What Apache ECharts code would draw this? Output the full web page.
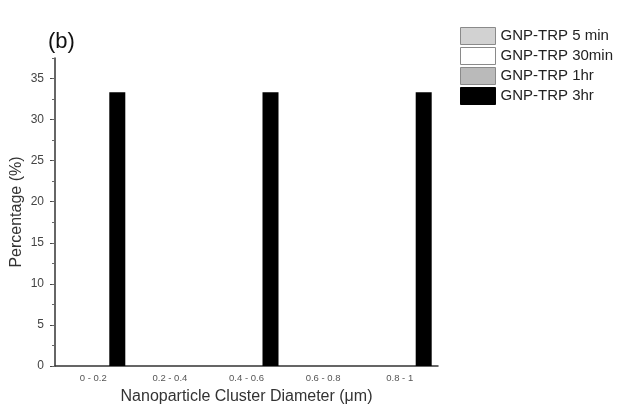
<!DOCTYPE html>
<html>
<head>
<meta charset="utf-8">
<script src="https://cdn.jsdelivr.net/npm/echarts@6/dist/echarts.min.js"></script>
<style>
  html, body { margin: 0; padding: 0; background: #fff; }
  #chart { width: 625px; height: 410px; }
</style>
</head>
<body>
<div id="chart"></div>
<script>
// Cluster diameter bins (µm)
const categories = ['0 - 0.2', '0.2 - 0.4', '0.4 - 0.6', '0.6 - 0.8', '0.8 - 1'];

// Percentage of clusters per bin for each incubation time
const seriesNames = ['GNP-TRP 5 min', 'GNP-TRP 30min', 'GNP-TRP 1hr', 'GNP-TRP 3hr'];
const values5min  = [0, 0, 0, 0, 0];
const values30min = [0, 0, 0, 0, 0];
const values1hr   = [0, 0, 0, 0, 0];
const values3hr   = [33.33, 0, 33.33, 0, 33.33];

const yTickValues = [0, 5, 10, 15, 20, 25, 30, 35];

const fills   = ['#d2d2d2', '#ffffff', '#bababa', '#000000'];
const borders = ['#8a8a8a', '#8a8a8a', '#8a8a8a', '#000000'];
const seriesValues = [values5min, values30min, values1hr, values3hr];

const chart = echarts.init(document.getElementById('chart'));

const FONT = 'Liberation Sans, Arial, sans-serif';

chart.setOption({
  animation: false,
  backgroundColor: '#ffffff',
  title: {
    text: '(b)',
    left: 43,
    top: 26,
    textStyle: { fontFamily: FONT, fontSize: 22, fontWeight: 'normal', color: '#111' }
  },
  legend: {
    orient: 'vertical',
    left: 460,
    top: 27,
    padding: 0,
    icon: 'rect',
    itemWidth: 35,
    itemHeight: 17,
    itemGap: 2,
    textStyle: { fontFamily: FONT, fontSize: 15, lineHeight: 17, color: '#222' },
    data: seriesNames.map((n, i) => ({
      name: n,
      itemStyle: { color: fills[i], borderColor: borders[i], borderWidth: 1 }
    }))
  },
  grid: { left: 55, right: 187, top: 58, bottom: 44, outerBoundsMode: 'none', containLabel: false },
  xAxis: {
    type: 'category',
    data: categories,
    name: 'Nanoparticle Cluster Diameter (μm)',
    nameLocation: 'middle',
    nameGap: 23,
    nameMoveOverlap: false,
    nameTextStyle: { fontFamily: FONT, fontSize: 16, color: '#333' },
    axisLine: { lineStyle: { color: '#333', width: 1.5 } },
    axisTick: { show: false },
    axisLabel: { fontFamily: FONT, fontSize: 9.5, color: '#555', margin: 7 }
  },
  yAxis: [
    {
      type: 'value',
      min: 0,
      max: 37.5,
      interval: 5,
      name: 'Percentage (%)',
      nameLocation: 'middle',
      nameGap: 30,
      nameMoveOverlap: false,
      nameTextStyle: { fontFamily: FONT, fontSize: 16, color: '#333' },
      axisLine: { show: true, lineStyle: { color: '#333', width: 1.5 } },
      axisTick: { show: true, length: 5, customValues: yTickValues, lineStyle: { color: '#444' } },
      axisLabel: { fontFamily: FONT, fontSize: 12, color: '#444', margin: 11, customValues: yTickValues },
      splitLine: { show: false }
    },
    {
      // short ticks every 2.5 %
      type: 'value',
      min: 0,
      max: 37.5,
      interval: 2.5,
      position: 'left',
      axisLine: { show: false },
      axisTick: { show: true, length: 3, lineStyle: { color: '#666' } },
      axisLabel: { show: false },
      splitLine: { show: false }
    }
  ],
  series: seriesNames.map((n, i) => ({
    name: n,
    type: 'bar',
    yAxisIndex: 0,
    barWidth: 16,
    barGap: 0,
    data: seriesValues[i],
    itemStyle: { color: fills[i], borderWidth: 0 }
  }))
});
</script>
</body>
</html>
